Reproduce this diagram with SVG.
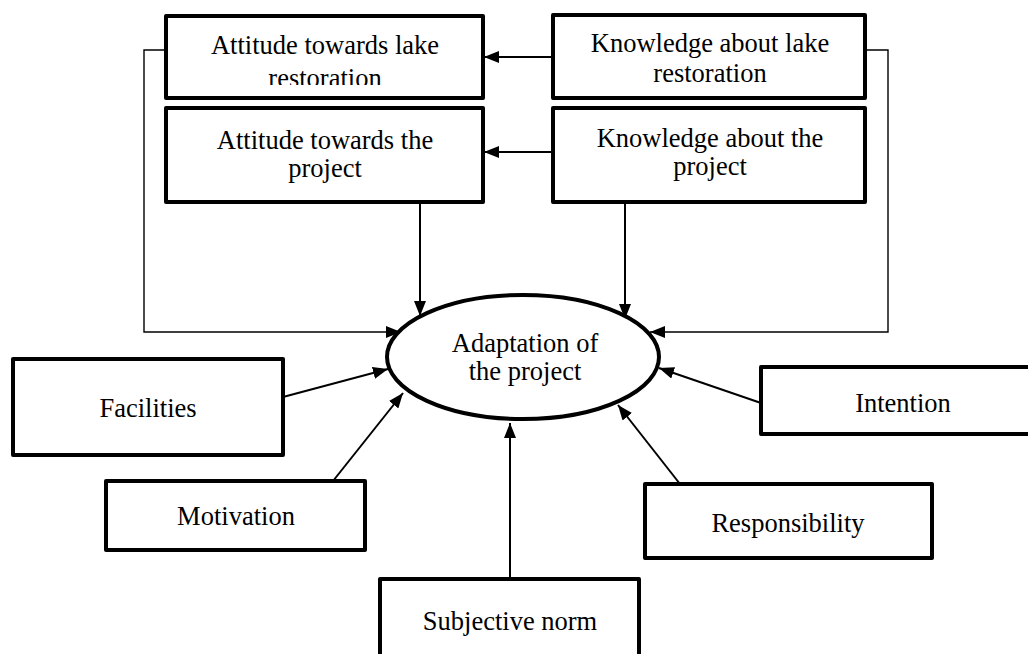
<svg xmlns="http://www.w3.org/2000/svg" width="1028" height="654" viewBox="0 0 1028 654">
<defs>
<style>
.box{fill:#fff;stroke:#000;stroke-width:4;stroke-linejoin:round}
.lbl{font-family:"Liberation Serif","Times New Roman",serif;font-size:26.5px;fill:#000;text-anchor:middle}
.c{fill:none;stroke:#000;stroke-width:2}
.t{fill:none;stroke:#000;stroke-width:1.4}
</style>
<marker id="ah" markerUnits="userSpaceOnUse" markerWidth="16" markerHeight="12" refX="15" refY="6" orient="auto">
<path d="M0,0 L15,6 L0,12 Z" fill="#000"/>
</marker>
<clipPath id="clipA"><rect x="166" y="16" width="317" height="69"/></clipPath>
</defs>
<rect width="1028" height="654" fill="#fff"/>
<g id="connectors">
<line class="c" x1="553" y1="57" x2="484" y2="57" marker-end="url(#ah)"/>
<line class="c" x1="553" y1="152" x2="484" y2="152" marker-end="url(#ah)"/>
<line class="c" x1="420" y1="202" x2="420" y2="316" marker-end="url(#ah)"/>
<line class="c" x1="625" y1="202" x2="625" y2="319" marker-end="url(#ah)"/>
<polyline class="t" points="166,50 144,50 144,332 401,332" marker-end="url(#ah)"/>
<polyline class="t" points="865,50 888,50 888,332 650,332" marker-end="url(#ah)"/>
<line class="c" x1="283" y1="397" x2="388" y2="369" marker-end="url(#ah)"/>
<line class="c" x1="333" y1="481" x2="403" y2="393" marker-end="url(#ah)"/>
<line class="c" x1="510" y1="579" x2="510" y2="423" marker-end="url(#ah)"/>
<line class="c" x1="761" y1="403" x2="659" y2="368" marker-end="url(#ah)"/>
<line class="c" x1="680" y1="484" x2="618" y2="405" marker-end="url(#ah)"/>
</g>
<g id="attitude-lake">
<rect class="box" x="166" y="16" width="317" height="82"/>
<g clip-path="url(#clipA)">
<text class="lbl" x="325" y="54">Attitude towards lake</text>
<text class="lbl" x="325" y="87">restoration</text>
</g>
</g>
<g id="attitude-project">
<rect class="box" x="166" y="108" width="317" height="94"/>
<text class="lbl" x="325" y="149">Attitude towards the</text>
<text class="lbl" x="325" y="177">project</text>
</g>
<g id="knowledge-lake">
<rect class="box" x="553" y="15" width="312" height="83"/>
<text class="lbl" x="710" y="52">Knowledge about lake</text>
<text class="lbl" x="710" y="82">restoration</text>
</g>
<g id="knowledge-project">
<rect class="box" x="553" y="108" width="312" height="94"/>
<text class="lbl" x="710" y="147">Knowledge about the</text>
<text class="lbl" x="710" y="175">project</text>
</g>
<g id="adaptation">
<ellipse cx="523" cy="357" rx="136" ry="62" fill="#fff" stroke="#000" stroke-width="4"/>
<text class="lbl" x="525" y="352">Adaptation of</text>
<text class="lbl" x="525" y="380">the project</text>
</g>
<g id="facilities">
<rect class="box" x="13" y="359" width="270" height="96"/>
<text class="lbl" x="148" y="417">Facilities</text>
</g>
<g id="motivation">
<rect class="box" x="106" y="481" width="259" height="69"/>
<text class="lbl" x="236" y="525">Motivation</text>
</g>
<g id="subjective-norm">
<rect class="box" x="380" y="579" width="259" height="90"/>
<text class="lbl" x="510" y="630">Subjective norm</text>
</g>
<g id="intention">
<rect class="box" x="761" y="367" width="290" height="67"/>
<text class="lbl" x="903" y="412">Intention</text>
</g>
<g id="responsibility">
<rect class="box" x="645" y="484" width="287" height="74"/>
<text class="lbl" x="788" y="532">Responsibility</text>
</g>
</svg>
